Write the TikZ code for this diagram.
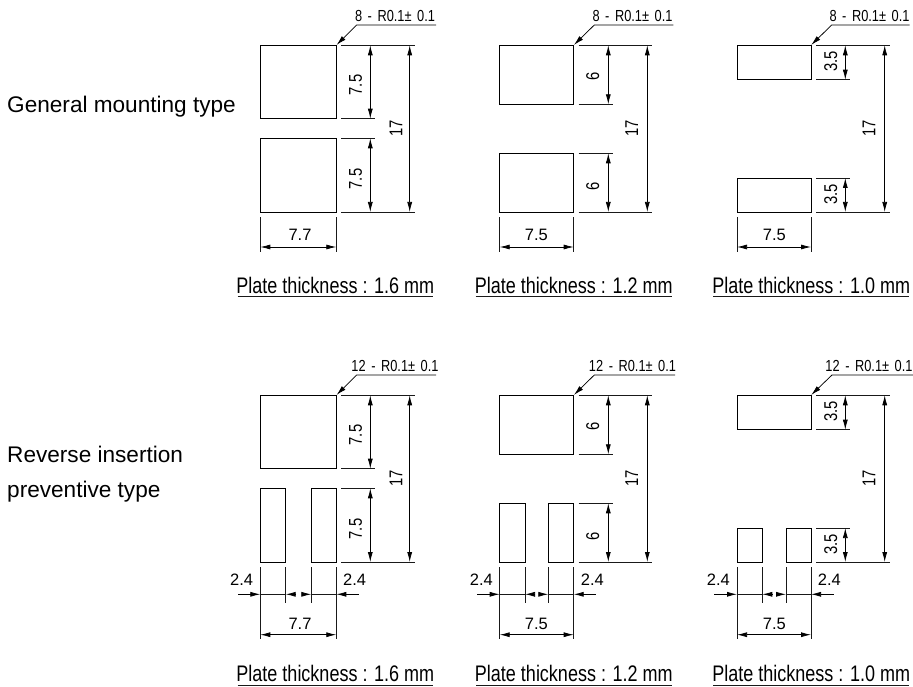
\documentclass[tikz,border=0pt]{standalone}
\usepackage{fontspec}
\setmainfont{Liberation Sans}
\newfontfamily\condfont[FakeStretch=0.80]{Liberation Sans}
\usetikzlibrary{arrows.meta}
\tikzset{
  part/.style={draw=black,line width=0.8pt},
  extline/.style={draw=black!90,line width=0.75pt},
  dimline/.style={draw=black,line width=0.75pt,{Latex[length=10pt,width=5pt]}-{Latex[length=10pt,width=5pt]}},
  halfdim/.style={draw=black,line width=0.75pt,-{Latex[length=10pt,width=5pt]}},
  leader/.style={draw=black,line width=0.75pt,{Latex[length=10pt,width=5pt]}-},
  dimtext/.style={inner sep=0pt,font=\fontsize{16.5}{18}\selectfont},
  voltext/.style={inner sep=0pt,rotate=90,font=\condfont\fontsize{18.5}{20}\selectfont},
  notetext/.style={inner sep=0pt,font=\condfont\fontsize{16}{18}\selectfont},
  platetext/.style={inner sep=0pt,font=\condfont\fontsize{22.5}{24}\selectfont},
  sidetext/.style={inner sep=0pt,anchor=base west,font=\fontsize{22.6}{24}\selectfont},
  x=1pt,y=-1pt
}
\newcommand{\notelabel}[1]{#1\hspace{2pt} -\hspace{2pt} R0.1±\hspace{2pt} 0.1}
% leader: corner x, y; elbow x; end x; elbow y
\newcommand{\leaderline}[5]{\draw[leader] (#1,#2) -- (#3,#5) -- (#4,#5);}
% underlined plate label: name, underline y, x1, x2, text y, text
\newcommand{\platelabel}[6]{\node[platetext] (#1) at ({(#3+#4)/2},#5) {#6}; \draw[extline] (#3,#2) -- (#4,#2);}
% 2.4 dimension group
\newcommand{\twofour}[8]{%
  \draw[extline] (#1,567.3) -- (#1,639.3);
  \draw[extline] (#4,567.3) -- (#4,639.3);
  \draw[extline] (#2,567.3) -- (#2,603.3);
  \draw[extline] (#3,567.3) -- (#3,603.3);
  \draw[halfdim] (#5,594.3) -- (#1,594.3);
  \draw[extline] (#1,594.3) -- (#2,594.3);
  \draw[leader] (#2,594.3) -- (#6,594.3);
  \draw[halfdim] (#7,594.3) -- (#3,594.3);
  \draw[extline] (#3,594.3) -- (#4,594.3);
  \draw[leader] (#4,594.3) -- (#8,594.3);
  \draw[dimline] (#1,634.7) -- (#4,634.7);
}
\begin{document}
\begin{tikzpicture}
\useasboundingbox (0,0) rectangle (913,687);
% side labels
\node[sidetext] (gen) at (7,112.5) {General mounting type};
\node[sidetext] (rev) at (7,462) {Reverse insertion};
\node[sidetext] (pre) at (7,497) {preventive type};

%% ---------- top row ----------
% column 1
\draw[part] (260.3,45.3) rectangle (336.3,118.7);
\draw[part] (260.3,138.3) rectangle (336.3,212);
\foreach \y in {118.7,138.3}{\draw[extline] (341.3,\y) -- (375,\y);}
\draw[extline] (341.3,45.3) -- (415,45.3);
\draw[extline] (341.3,212) -- (415,212);
\draw[dimline] (370.3,45.3) -- (370.3,118.7);
\draw[dimline] (370.3,138.3) -- (370.3,212);
\draw[dimline] (409.7,45.3) -- (409.7,212);
\node[voltext] (a1) at (355.7,85) {7.5};
\node[voltext] (a2) at (355.7,179) {7.5};
\node[voltext] (a3) at (396,128) {17};
\draw[extline] (260.3,217.5) -- (260.3,251.7);
\draw[extline] (336.3,217.5) -- (336.3,251.7);
\draw[dimline] (260.3,247) -- (336.3,247);
\node[dimtext] (a4) at (300,235) {7.7};
\leaderline{336.5}{45}{356.7}{436}{25}
\node[notetext] (a5) at (395,15.7) {\notelabel{8}};
\platelabel{a6}{296.7}{237.7}{433}{285}{Plate thickness : 1.6 mm}

% column 2
\draw[part] (499.7,45.3) rectangle (573.7,104.3);
\draw[part] (499.7,153.3) rectangle (573.7,212);
\foreach \y in {104.3,153.3}{\draw[extline] (578.7,\y) -- (612.7,\y);}
\draw[extline] (578.7,45.3) -- (652.3,45.3);
\draw[extline] (578.7,212) -- (652.3,212);
\draw[dimline] (608.3,45.3) -- (608.3,104.3);
\draw[dimline] (608.3,153.3) -- (608.3,212);
\draw[dimline] (647.3,45.3) -- (647.3,212);
\node[voltext] (b1) at (592.7,76.3) {6};
\node[voltext] (b2) at (592.7,186.7) {6};
\node[voltext] (b3) at (631.7,128) {17};
\draw[extline] (499.7,217.5) -- (499.7,251.7);
\draw[extline] (573.7,217.5) -- (573.7,251.7);
\draw[dimline] (499.7,247) -- (573.7,247);
\node[dimtext] (b4) at (536.3,235) {7.5};
\leaderline{573.9}{45}{594.3}{673.3}{25}
\node[notetext] (b5) at (632.5,15.7) {\notelabel{8}};
\platelabel{b6}{296.7}{475.7}{671.7}{285}{Plate thickness : 1.2 mm}

% column 3
\draw[part] (737,45.3) rectangle (811,79.7);
\draw[part] (737,178) rectangle (811,212);
\foreach \y in {79.7,178}{\draw[extline] (816,\y) -- (850,\y);}
\draw[extline] (816,45.3) -- (889.7,45.3);
\draw[extline] (816,212) -- (889.7,212);
\draw[dimline] (845.3,45.3) -- (845.3,79.7);
\draw[dimline] (845.3,178) -- (845.3,212);
\draw[dimline] (884.7,45.3) -- (884.7,212);
\node[voltext] (c1) at (830.7,61.7) {3.5};
\node[voltext] (c2) at (830.7,194.3) {3.5};
\node[voltext] (c3) at (869,128) {17};
\draw[extline] (737,217.5) -- (737,251.7);
\draw[extline] (811,217.5) -- (811,251.7);
\draw[dimline] (737,247) -- (811,247);
\node[dimtext] (c4) at (774.3,235) {7.5};
\leaderline{811.2}{45}{831.7}{909.7}{25}
\node[notetext] (c5) at (869.5,15.7) {\notelabel{8}};
\platelabel{c6}{296.7}{713.3}{909}{285}{Plate thickness : 1.0 mm}

%% ---------- bottom row ----------
% column 1
\draw[part] (260.3,395.3) rectangle (336.3,468.7);
\draw[part] (260.3,488.3) rectangle (285.7,562);
\draw[part] (311.3,488.3) rectangle (336.3,562);
\foreach \y in {468.7,488.3}{\draw[extline] (341.3,\y) -- (375,\y);}
\draw[extline] (341.3,395.3) -- (415,395.3);
\draw[extline] (341.3,562) -- (415,562);
\draw[dimline] (370.3,395.3) -- (370.3,468.7);
\draw[dimline] (370.3,488.3) -- (370.3,562);
\draw[dimline] (409.7,395.3) -- (409.7,562);
\node[voltext] (d1) at (355.7,435) {7.5};
\node[voltext] (d2) at (355.7,529) {7.5};
\node[voltext] (d3) at (396,478) {17};
\twofour{260.3}{285.7}{311.3}{336.3}{238}{295.3}{302}{359}
\node[dimtext] (d4) at (241.7,579.7) {2.4};
\node[dimtext] (d7) at (354.7,579.7) {2.4};
\node[dimtext] (d8) at (300,623.7) {7.7};
\leaderline{336.5}{395}{356.7}{436}{375}
\node[notetext] (d5) at (395,365.7) {\notelabel{12}};
\platelabel{d6}{685.3}{237.7}{433}{673}{Plate thickness : 1.6 mm}

% column 2
\draw[part] (499.7,395.3) rectangle (573.7,454.3);
\draw[part] (499.7,503.3) rectangle (525,562);
\draw[part] (548.3,503.3) rectangle (573.7,562);
\foreach \y in {454.3,503.3}{\draw[extline] (578.7,\y) -- (612.7,\y);}
\draw[extline] (578.7,395.3) -- (652.3,395.3);
\draw[extline] (578.7,562) -- (652.3,562);
\draw[dimline] (608.3,395.3) -- (608.3,454.3);
\draw[dimline] (608.3,503.3) -- (608.3,562);
\draw[dimline] (647.3,395.3) -- (647.3,562);
\node[voltext] (e1) at (592.7,426.3) {6};
\node[voltext] (e2) at (592.7,536.7) {6};
\node[voltext] (e3) at (631.7,478) {17};
\twofour{499.7}{525}{548.3}{573.7}{477.3}{534}{539}{596}
\node[dimtext] (e4) at (481.3,579.7) {2.4};
\node[dimtext] (e7) at (592.3,579.7) {2.4};
\node[dimtext] (e8) at (536.3,623.7) {7.5};
\leaderline{573.9}{395}{594.3}{675}{375}
\node[notetext] (e5) at (632.5,365.7) {\notelabel{12}};
\platelabel{e6}{685.3}{476}{671.7}{673}{Plate thickness : 1.2 mm}

% column 3
\draw[part] (737,395.3) rectangle (811,429.7);
\draw[part] (737,528) rectangle (762.3,562);
\draw[part] (786,528) rectangle (811,562);
\foreach \y in {429.7,528}{\draw[extline] (816,\y) -- (850,\y);}
\draw[extline] (816,395.3) -- (889.7,395.3);
\draw[extline] (816,562) -- (889.7,562);
\draw[dimline] (845.3,395.3) -- (845.3,429.7);
\draw[dimline] (845.3,528) -- (845.3,562);
\draw[dimline] (884.7,395.3) -- (884.7,562);
\node[voltext] (f1) at (830.7,411.7) {3.5};
\node[voltext] (f2) at (830.7,544.3) {3.5};
\node[voltext] (f3) at (869,478) {17};
\twofour{737}{762.3}{786}{811}{714.3}{771.7}{776.7}{834}
\node[dimtext] (f4) at (718.3,579.7) {2.4};
\node[dimtext] (f7) at (829.3,579.7) {2.4};
\node[dimtext] (f8) at (774.3,623.7) {7.5};
\leaderline{811.2}{395}{832}{913}{375}
\node[notetext] (f5) at (869,365.7) {\notelabel{12}};
\platelabel{f6}{685.3}{713.3}{909.3}{673}{Plate thickness : 1.0 mm}
\end{tikzpicture}
\end{document}
